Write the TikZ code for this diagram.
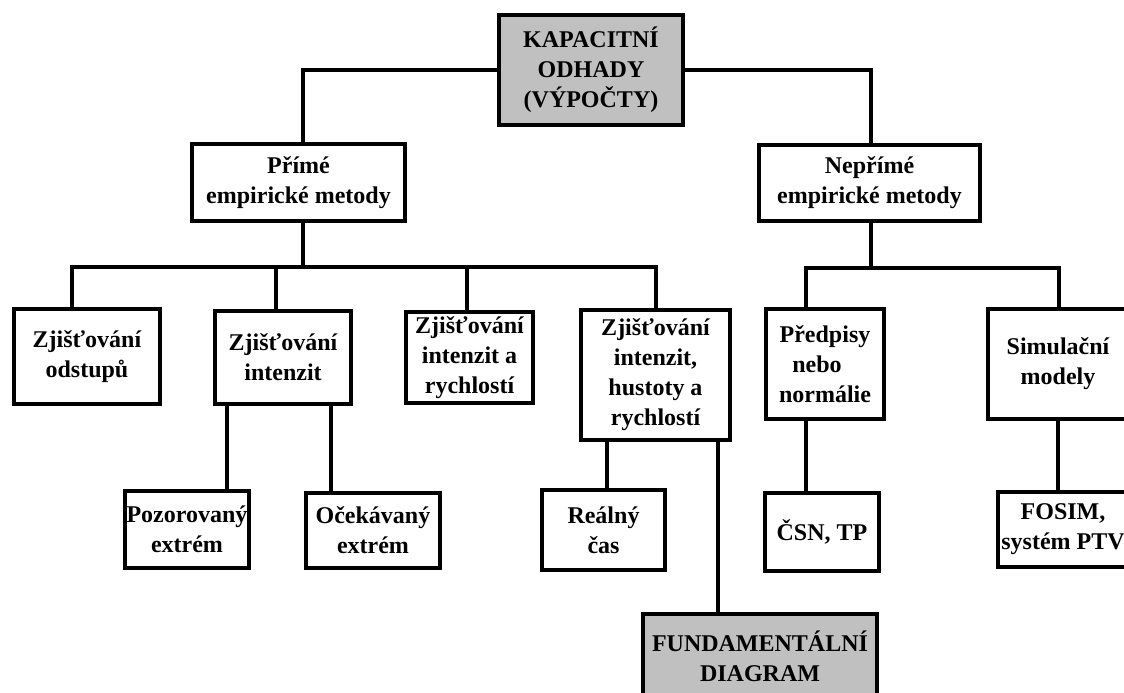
\documentclass[tikz,border=0pt]{standalone}
\usepackage{fontspec}
\setmainfont{Liberation Serif}
\definecolor{boxgray}{HTML}{C0C0C0}
\begin{document}
\begin{tikzpicture}[x=1pt,y=-1pt,
  box/.style={draw=black,line width=4pt,fill=white,inner sep=0pt,align=center,
    font=\fontsize{24}{30}\selectfont\bfseries},
  graybox/.style={box,fill=boxgray},
  conn/.style={draw=black,line width=3.5pt}]
\useasboundingbox (0,0) rectangle (1124,693);
\clip (0,0) rectangle (1124,693);
\newcommand\bx[7][box]{\node[#1,minimum width={#5-#3-4},minimum height={#6-#4-4}] (#2) at ({(#3+#5)/2},{(#4+#6)/2}) {#7};}
% boxes
\bx[graybox]{top}{497}{13}{685}{127}{KAPACITNÍ\\ODHADY\\(VÝPOČTY)}
\bx{prime}{190}{142}{407}{223}{Přímé\\empirické metody}
\bx{neprime}{757}{143}{982}{223}{Nepřímé\\empirické metody}
\bx{d1}{12}{307}{162}{406}{Zjišťování\\odstupů}
\bx{d2}{213}{309}{353}{406}{Zjišťování\\intenzit}
\bx{d3}{404}{310}{535}{405}{Zjišťování\\intenzit a\\rychlostí}
\bx{d4}{579}{308}{732}{442}{Zjišťování\\intenzit,\\hustoty a\\rychlostí}
\bx{pred}{764}{307}{886}{421}{Předpisy\\\hbox{nebo\kern16pt}\\normálie}
\bx{sim}{986}{307}{1130}{421}{Simulační\\modely}
\bx{po}{123}{489}{251}{570}{Pozorovaný\\extrém}
\bx{oc}{304}{491}{442}{570}{Očekávaný\\extrém}
\bx{re}{540}{488}{667}{572}{Reálný\\čas}
\bx{csn}{763}{491}{881}{573}{ČSN, TP}
\bx{fo}{996}{490}{1130}{569}{FOSIM,\\systém PTV}
\bx[graybox]{fd}{641}{612}{879}{700}{FUNDAMENTÁLNÍ\\DIAGRAM}
% junctions
\coordinate (jp) at (303,267);
\coordinate (j1) at (72,267);
\coordinate (j2) at (276,267);
\coordinate (j3) at (467,267);
\coordinate (j4) at (656,267);
\coordinate (jn) at (871,268);
\coordinate (jl) at (806,268);
\coordinate (jr) at (1059,268);
\coordinate (ka) at (227,450);
\coordinate (kb) at (331,450);
\coordinate (kc) at (607,450);
\coordinate (kd) at (718,450);
\coordinate (ke) at (806,450);
\coordinate (kf) at (1058,450);
% connectors
\draw[conn] (top.west) -| (prime.north -| jp);
\draw[conn] (top.east) -| (neprime.north -| jn);
\draw[conn] (prime.south -| jp) -- (jp);
\draw[conn] (d1.north -| j1) |- (j4) -- (d4.north -| j4);
\draw[conn] (j2) -- (d2.north -| j2);
\draw[conn] (j3) -- (d3.north -| j3);
\draw[conn] (neprime.south -| jn) -- (jn);
\draw[conn] (pred.north -| jl) |- (jr) -- (sim.north -| jr);
\draw[conn] (d2.south -| ka) -- (po.north -| ka);
\draw[conn] (d2.south -| kb) -- (oc.north -| kb);
\draw[conn] (d4.south -| kc) -- (re.north -| kc);
\draw[conn] (d4.south -| kd) -- (fd.north -| kd);
\draw[conn] (pred.south -| ke) -- (csn.north -| ke);
\draw[conn] (sim.south -| kf) -- (fo.north -| kf);
\end{tikzpicture}
\end{document}
